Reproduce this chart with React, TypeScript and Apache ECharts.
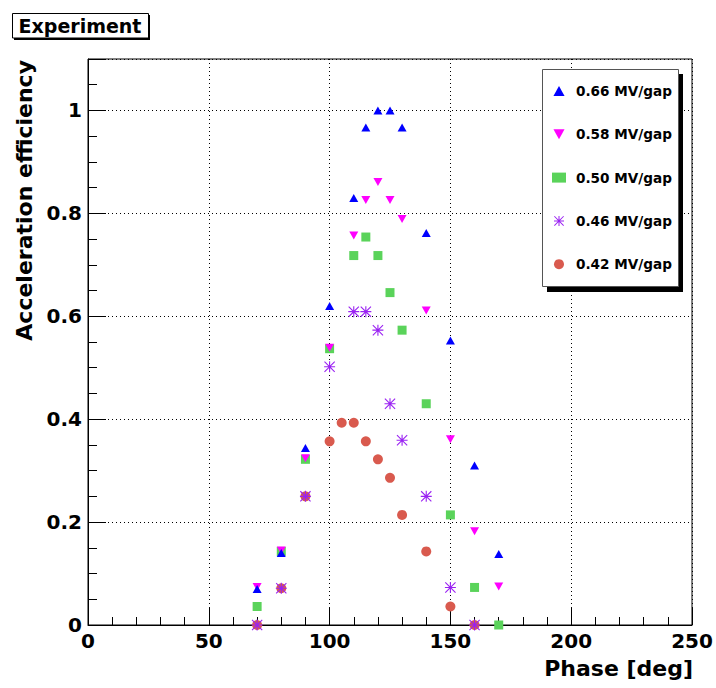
import React, { useEffect, useRef } from "react";
import * as echarts from "echarts";

const seriesNames = ["0.66 MV/gap", "0.58 MV/gap", "0.50 MV/gap", "0.46 MV/gap", "0.42 MV/gap"];

const phase66 = [70, 80, 90, 100, 110, 115, 120, 125, 130, 140, 150, 160, 170];
const eff66 = [0.07, 0.14, 0.344, 0.62, 0.83, 0.967, 1.0, 1.0, 0.967, 0.762, 0.553, 0.31, 0.138];

const phase58 = [70, 80, 90, 100, 110, 115, 120, 125, 130, 140, 150, 160, 170];
const eff58 = [0.074, 0.145, 0.324, 0.539, 0.757, 0.826, 0.861, 0.826, 0.789, 0.611, 0.361, 0.182, 0.075];

const phase50 = [70, 80, 90, 100, 110, 115, 120, 125, 130, 140, 150, 160, 170];
const eff50 = [0.036, 0.143, 0.322, 0.537, 0.718, 0.754, 0.718, 0.646, 0.573, 0.43, 0.214, 0.073, 0.0];

const phase46 = [70, 80, 90, 100, 110, 115, 120, 125, 130, 140, 150, 160];
const eff46 = [0, 0.0715, 0.25, 0.502, 0.609, 0.609, 0.573, 0.43, 0.359, 0.25, 0.073, 0];

const phase42 = [70, 80, 90, 100, 105, 110, 115, 120, 125, 130, 140, 150, 160];
const eff42 = [0, 0.0715, 0.25, 0.357, 0.393, 0.393, 0.357, 0.322, 0.286, 0.214, 0.143, 0.036, 0];

const FONT = "DejaVu Sans";
const STAR =
  "path://M0 9 H20 V11 H0 Z M9 0 H11 V20 H9 Z M1.4 0 L20 18.6 L18.6 20 L0 1.4 Z M18.6 0 L20 1.4 L1.4 20 L0 18.6 Z M7.5 7.5 H12.5 V12.5 H7.5 Z";
const DOWN_TRI = "path://M0 0 L10 0 L5 9 Z";
const UP_TRI = "path://M5 0 L10 9 L0 9 Z";

function pairs(xs: number[], ys: number[]) {
  return xs.map((x, i) => [x, ys[i]]);
}

export default function App() {
  const ref = useRef<HTMLDivElement>(null);
  useEffect(() => {
    if (!ref.current) return;
    const chart = echarts.init(ref.current, null, { renderer: "svg" });
    const axisCommon = {
      axisLine: { show: true, lineStyle: { color: "#000", width: 1 } },
    };
    chart.setOption({
      animation: false,
      backgroundColor: "#fff",
      textStyle: { fontFamily: FONT },
      grid: {
        left: 88,
        right: 24,
        top: 59,
        bottom: 63,
        show: true,
        borderColor: "#000",
        borderWidth: 1,
        backgroundColor: "transparent",
      },
      xAxis: [
        {
          type: "value",
          min: 0,
          max: 250,
          interval: 50,
          position: "bottom",
          ...axisCommon,
          axisTick: { show: true, inside: true, length: 18, lineStyle: { color: "#000" } },
          axisLabel: {
            fontFamily: FONT,
            fontWeight: "bold",
            fontSize: 20,
            color: "#000",
            margin: 6,
          },
          splitLine: { show: true, lineStyle: { color: "#000", type: [1, 3], width: 1 } },
        },
        {
          type: "value",
          min: 0,
          max: 250,
          interval: 10,
          position: "bottom",
          axisLine: { show: false },
          axisTick: { show: true, inside: true, length: 8, lineStyle: { color: "#000" } },
          axisLabel: { show: false },
          splitLine: { show: false },
        },
      ],
      yAxis: [
        {
          type: "value",
          min: 0,
          max: 1.1,
          interval: 0.2,
          position: "left",
          ...axisCommon,
          axisTick: { show: true, inside: true, length: 18, lineStyle: { color: "#000" } },
          axisLabel: {
            fontFamily: FONT,
            fontWeight: "bold",
            fontSize: 20,
            color: "#000",
            margin: 6,
            formatter: (v: number) => (v > 1.05 ? "" : String(Math.round(v * 10) / 10)),
          },
          splitLine: { show: true, lineStyle: { color: "#000", type: [1, 3], width: 1 } },
        },
        {
          type: "value",
          min: 0,
          max: 1.1,
          interval: 0.05,
          position: "left",
          axisLine: { show: false },
          axisTick: { show: true, inside: true, length: 9, lineStyle: { color: "#000" } },
          axisLabel: { show: false },
          splitLine: { show: false },
        },
      ],
      legend: {
        show: true,
        orient: "vertical",
        left: 552,
        top: 84,
        itemWidth: 14,
        itemHeight: 10,
        itemGap: 29.3,
        padding: 0,
        data: seriesNames,
        textStyle: {
          fontFamily: FONT,
          fontWeight: "bold",
          fontSize: 13.6,
          color: "#000",
          padding: [0, 0, 0, 5],
        },
      },
      graphic: [
        { type: "rect", shape: { x: 547, y: 74, width: 136, height: 218 }, style: { fill: "#000" }, z: 1 },
        {
          type: "rect",
          shape: { x: 542.5, y: 69.5, width: 136, height: 217 },
          style: { fill: "#fff", stroke: "#555", lineWidth: 1 },
          z: 2,
        },
        { type: "rect", shape: { x: 14, y: 15, width: 136, height: 25 }, style: { fill: "#000" }, z: 1 },
        {
          type: "rect",
          shape: { x: 12.5, y: 13.5, width: 136, height: 24.5 },
          style: { fill: "#fff", stroke: "#000", lineWidth: 1 },
          z: 2,
        },
        {
          type: "text",
          x: 80,
          y: 26,
          z: 3,
          style: {
            text: "Experiment",
            fontFamily: FONT,
            fontWeight: "bold",
            fontSize: 19,
            fill: "#000",
            textAlign: "center",
            textVerticalAlign: "middle",
          },
        },
        {
          type: "text",
          x: 693,
          y: 668,
          z: 3,
          style: {
            text: "Phase [deg]",
            fontFamily: FONT,
            fontWeight: "bold",
            fontSize: 22,
            fill: "#000",
            textAlign: "right",
            textVerticalAlign: "middle",
          },
        },
        {
          type: "text",
          x: 24,
          y: 60,
          rotation: Math.PI / 2,
          z: 3,
          style: {
            text: "Acceleration efficiency",
            fontFamily: FONT,
            fontWeight: "bold",
            fontSize: 22,
            fill: "#000",
            textAlign: "right",
            textVerticalAlign: "middle",
          },
        },
      ],
      series: [
        {
          name: seriesNames[4],
          type: "scatter",
          data: pairs(phase42, eff42),
          symbol: "circle",
          symbolSize: 10,
          itemStyle: { color: "#d95a4e", opacity: 1 },
          z: 3,
        },
        {
          name: seriesNames[3],
          type: "scatter",
          data: pairs(phase46, eff46),
          symbol: STAR,
          symbolSize: 11,
          itemStyle: { color: "#9a22f2", opacity: 1 },
          z: 4,
        },
        {
          name: seriesNames[2],
          type: "scatter",
          data: pairs(phase50, eff50),
          symbol: "rect",
          symbolSize: 9,
          itemStyle: { color: "#5ad35a", opacity: 1 },
          z: 5,
        },
        {
          name: seriesNames[1],
          type: "scatter",
          data: pairs(phase58, eff58),
          symbol: DOWN_TRI,
          symbolSize: [9, 8],
          itemStyle: { color: "#ff00ff", opacity: 1 },
          z: 6,
        },
        {
          name: seriesNames[0],
          type: "scatter",
          data: pairs(phase66, eff66),
          symbol: UP_TRI,
          symbolSize: [9, 8],
          itemStyle: { color: "#0000ff", opacity: 1 },
          z: 7,
        },
      ],
    });
    return () => chart.dispose();
  }, []);
  return <div ref={ref} style={{ width: 716, height: 688, position: "absolute", left: 0, top: 0 }} />;
}
